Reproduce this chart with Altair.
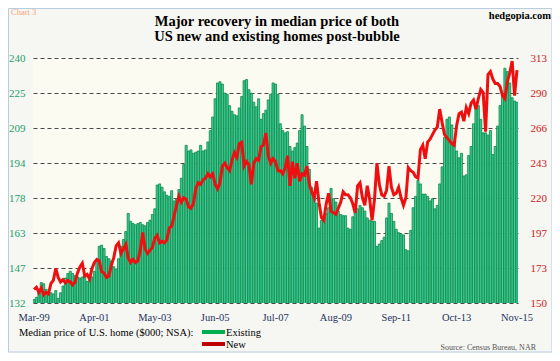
import altair as alt
import pandas as pd

# ---- data ----
start_month = "1999-03"
n_months = 201

existing = [
    # 1999 Mar-Dec
    133.5, 134.5, 137.0, 141.0, 140.5, 138.0, 136.5, 136.5, 136.0, 137.5,
    # 2000
    134.0, 136.5, 139.5, 143.0, 145.0, 146.0, 145.0, 144.0, 143.5, 143.0, 143.5, 144.5,
    # 2001
    141.5, 142.0, 143.5, 146.0, 150.5, 157.0, 157.5, 156.0, 152.5, 151.5, 150.5, 148.0,
    # 2002
    147.0, 151.5, 157.0, 160.0, 163.5, 171.5, 168.0, 167.0, 166.5, 167.0, 167.5, 166.5,
    # 2003
    166.0, 167.5, 168.5, 171.0, 173.5, 184.0, 184.5, 183.0, 181.0, 179.5, 179.0, 181.5,
    # 2004
    177.0, 178.0, 182.0, 187.0, 193.0, 201.5, 199.0, 199.5, 198.0, 198.5, 199.0, 201.5,
    # 2005
    199.0, 199.5, 203.0, 208.0, 214.0, 222.0, 229.0, 229.5, 228.5, 224.5, 224.0, 219.0,
    # 2006
    216.5, 215.0, 214.5, 218.0, 223.0, 230.0, 230.5, 226.0, 224.5, 220.5, 218.5, 222.0,
    # 2007
    213.0, 215.5, 217.0, 221.5, 224.0, 229.0, 228.5, 224.0, 211.0, 208.0, 207.0, 207.5,
    # 2008
    201.0, 199.0, 200.5, 202.5, 208.0, 215.0, 210.0, 201.0, 191.0, 183.0, 180.0, 176.0,
    # 2009
    165.0, 168.5, 169.5, 171.5, 174.0, 182.5, 178.0, 176.5, 172.5, 171.0, 170.5, 170.5,
    # 2010
    165.0, 164.5, 170.0, 172.0, 173.5, 175.0, 174.0, 172.5, 169.5, 168.5, 168.0, 168.0,
    # 2011
    157.0, 158.0, 159.5, 161.0, 169.5, 176.0, 171.5, 168.0, 164.5, 163.0, 162.5, 162.0,
    # 2012
    155.5, 155.0, 164.0, 174.0, 179.0, 186.0, 184.5, 180.0, 180.0, 179.0, 177.0, 178.0,
    # 2013
    173.5, 175.0, 184.5, 192.0, 205.0, 213.0, 214.0, 210.5, 203.0, 199.0, 196.0, 198.0,
    # 2014
    188.0, 188.5, 197.0, 201.0, 211.0, 219.0, 219.0, 213.0, 207.0, 207.0, 206.0, 208.0,
    # 2015 Jan-Nov
    197.5, 201.0, 210.0, 219.0, 224.5, 235.5, 234.0, 229.0, 222.5, 221.0, 220.5,
]

new = [
    # 1999 Mar-Dec
    159, 160.5, 157, 160, 155.5, 157, 156, 163, 165, 173,
    # 2000
    167, 164, 165.5, 163.5, 165, 164, 162, 164, 170, 174, 176.5, 168,
    # 2001
    169, 166, 173, 177, 179, 178, 171, 170, 167, 168, 175, 180,
    # 2002
    188, 190, 183, 186, 189, 180, 177, 179, 177, 178, 185, 197,
    # 2003
    186, 183, 185, 187, 193, 195, 190, 191, 190, 192, 200, 201,
    # 2004
    208, 215, 221, 217, 220, 219, 214, 213, 216, 226, 230, 229,
    # 2005
    232, 233, 236, 234, 236, 229, 226, 230, 241, 243, 240, 238,
    # 2006
    245, 250, 247, 256, 257, 241, 244, 242, 229, 243, 246, 245,
    # 2007
    254, 255, 263, 248, 243, 246, 244, 238, 238, 236, 240, 248,
    # 2008
    228, 244, 233, 243, 231, 236, 235, 241, 229, 224, 220, 231,
    # 2009
    217, 207, 205, 216, 223, 211, 210, 209, 213, 217, 224, 222,
    # 2010
    222, 220, 216, 210, 228, 230, 220, 215, 228, 219, 205, 219,
    # 2011
    243, 229, 222, 221, 225, 241, 227, 222, 223, 227, 220, 215,
    # 2012
    220, 240, 238, 237, 234, 233, 252, 255, 246, 257, 259, 262,
    # 2013
    265, 267, 279, 270, 262, 260, 258, 256, 255, 268, 276, 277,
    # 2014
    271, 280, 276, 283, 285, 279, 286, 292, 290, 264, 302, 304,
    # 2015 Jan-Nov
    299, 296, 296, 294, 288, 286, 297, 303, 311, 288, 305,
]

left_domain = [132, 240]
right_domain = [150, 313]
n_ticks = 8

months = list(pd.date_range(start_month, periods=n_months, freq="MS").strftime("%b-%y"))
shown_months = months[::25]

df = pd.DataFrame({"month": months, "existing": existing, "new": new})

# ---- styling ----
SERIF = "Liberation Serif"
GREEN_FILL = "#3fcf98"
GREEN_EDGE = "#0b8747"
RED = "#ee1010"
LEFT_LBL = "#1e9e6e"
RIGHT_LBL = "#d01818"
NAVY = "#24325f"

W, H = 485, 245
OX, OY = 33, 58  # plot origin on the page


def px(x):
    return x - OX


def py(y):
    return y - OY


left_ticks = [left_domain[0] + k * (left_domain[1] - left_domain[0]) / (n_ticks - 1) for k in range(n_ticks)]
right_ticks = [right_domain[0] + k * (right_domain[1] - right_domain[0]) / (n_ticks - 1) for k in range(n_ticks)]

x_enc = alt.X(
    "month:O",
    sort=months,
    scale=alt.Scale(paddingInner=0.15, paddingOuter=0),
    axis=alt.Axis(
        values=shown_months, labelAngle=0, ticks=False, domain=False, title=None,
        labelFont=SERIF, labelFontSize=10.5, labelColor=NAVY, labelPadding=9,
    ),
)

bars = alt.Chart(df).mark_bar(
    color=GREEN_FILL, stroke=GREEN_EDGE, strokeWidth=0.8, clip=True
).encode(
    x=x_enc,
    y=alt.Y(
        "existing:Q",
        scale=alt.Scale(domain=left_domain, zero=False, nice=False),
        axis=alt.Axis(
            values=left_ticks, format=".0f", orient="left", title=None,
            grid=True, gridDash=[4, 3], gridColor="#4a4a4a", gridWidth=1,
            domain=False, ticks=False, labelFont=SERIF, labelFontSize=11,
            labelColor=LEFT_LBL, labelPadding=8,
        ),
    ),
)

line = alt.Chart(df).mark_line(color=RED, strokeWidth=3, clip=False).encode(
    x=alt.X("month:O", sort=months),
    y=alt.Y(
        "new:Q",
        scale=alt.Scale(domain=right_domain, zero=False, nice=False),
        axis=alt.Axis(
            values=right_ticks, format=".0f", orient="right", title=None,
            grid=False, domain=False, ticks=False, labelFont=SERIF,
            labelFontSize=11, labelColor=RIGHT_LBL, labelPadding=12,
        ),
    ),
)

one = pd.DataFrame({"k": [0]})


def label(text, x, y, size=11, color="black", weight="normal", align="left"):
    return alt.Chart(one).mark_text(
        text=text, font=SERIF, fontSize=size, color=color, fontWeight=weight,
        align=align, baseline="alphabetic",
    ).encode(x=alt.value(px(x)), y=alt.value(py(y)))


def swatch(color, x1, x2, y):
    return alt.Chart(one).mark_rule(color=color, strokeWidth=4).encode(
        x=alt.value(px(x1)), x2=alt.value(px(x2)), y=alt.value(py(y))
    )


border = alt.Chart(one).mark_rect(
    fillOpacity=0, stroke="#b9cde2", strokeWidth=1
).encode(
    x=alt.value(px(8.5)), x2=alt.value(px(552)),
    y=alt.value(py(8.5)), y2=alt.value(py(352)),
)

annotations = [
    label("Major recovery  in median price of both", 277, 26, size=14.5, weight="bold", align="center"),
    label("US new and existing homes post-bubble", 277, 41, size=14.5, weight="bold", align="center"),
    label("Chart 3", 11, 15, size=8.5, color="#f2a47c"),
    label("hedgopia.com", 551, 19, size=10.5, weight="bold", align="right"),
    label("Median price of U.S. home ($000; NSA):", 19, 336, size=10.5, color="black"),
    swatch("#00b050", 202, 225, 332),
    label("Existing", 226, 336, size=10.5),
    swatch("#c00000", 202, 225, 344),
    label("New", 226, 348, size=10.5),
    label("Source: Census Bureau, NAR", 536, 350, size=8, color="#555555", align="right"),
]

main = alt.layer(bars, line).resolve_scale(y="independent")

chart = alt.layer(main, border, *annotations).properties(
    width=W, height=H,
    autosize=alt.AutoSizeParams(type="none"),
    padding={"left": OX - 8, "top": OY - 8, "right": 544 - (OX - 8) - W, "bottom": 345 - (OY - 8) - H},
    background="#f6f6f2",
).configure_view(fill="#fbfbf1", strokeWidth=0)

chart.save("out.html", embed_options={"renderer": "svg", "actions": False})
